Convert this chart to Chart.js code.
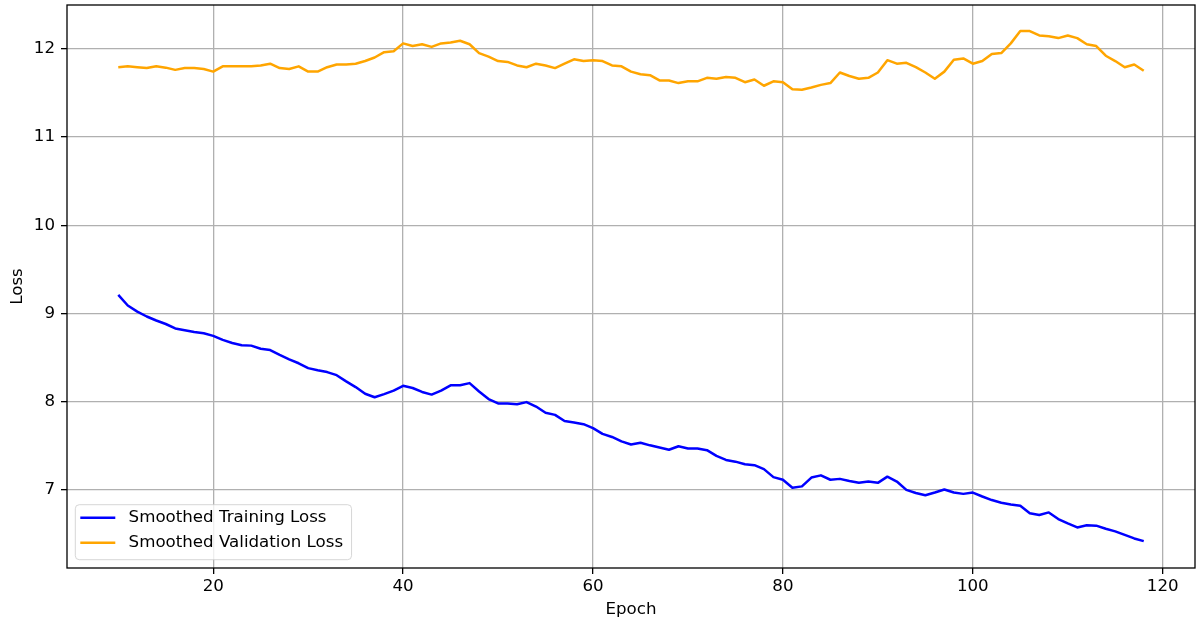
<!DOCTYPE html>
<html>
<head>
<meta charset="utf-8">
<script src="https://cdn.jsdelivr.net/npm/chart.js@4.4.0/dist/chart.umd.min.js"></script>
<style>
  body { margin: 0; background: #fff; }
</style>
</head>
<body>
<canvas id="lossChart" width="1196" height="621"></canvas>
<script>
var epochs = [
  10, 11, 12, 13, 14, 15, 16, 17, 18, 19,
  20, 21, 22, 23, 24, 25, 26, 27, 28, 29,
  30, 31, 32, 33, 34, 35, 36, 37, 38, 39,
  40, 41, 42, 43, 44, 45, 46, 47, 48, 49,
  50, 51, 52, 53, 54, 55, 56, 57, 58, 59,
  60, 61, 62, 63, 64, 65, 66, 67, 68, 69,
  70, 71, 72, 73, 74, 75, 76, 77, 78, 79,
  80, 81, 82, 83, 84, 85, 86, 87, 88, 89,
  90, 91, 92, 93, 94, 95, 96, 97, 98, 99,
  100, 101, 102, 103, 104, 105, 106, 107, 108, 109,
  110, 111, 112, 113, 114, 115, 116, 117, 118
];

var trainLoss = [
  9.21, 9.09, 9.02, 8.965, 8.92, 8.88, 8.83, 8.81, 8.79, 8.775,
  8.745, 8.70, 8.665, 8.64, 8.635, 8.60, 8.585, 8.53, 8.48, 8.435,
  8.38, 8.355, 8.335, 8.30, 8.23, 8.165, 8.09, 8.05, 8.085, 8.125,
  8.18, 8.155, 8.11, 8.08, 8.125, 8.185, 8.185, 8.21, 8.115, 8.03,
  7.98, 7.98, 7.97, 7.995, 7.945, 7.875, 7.85, 7.78, 7.765, 7.745,
  7.70, 7.635, 7.60, 7.55, 7.515, 7.535, 7.505, 7.48, 7.455, 7.495,
  7.47, 7.47, 7.45, 7.385, 7.34, 7.32, 7.29, 7.28, 7.235, 7.145,
  7.115, 7.025, 7.04, 7.14, 7.165, 7.115, 7.125, 7.10, 7.08, 7.095,
  7.08, 7.15, 7.095, 7.00, 6.965, 6.94, 6.97, 7.005, 6.97, 6.955,
  6.97, 6.925, 6.885, 6.855, 6.835, 6.82, 6.735, 6.715, 6.745, 6.67,
  6.62, 6.575, 6.60, 6.595, 6.56, 6.53, 6.49, 6.45, 6.42
];

var valLoss = [
  11.79, 11.80, 11.79, 11.78, 11.80, 11.785, 11.76, 11.78, 11.78, 11.77,
  11.74, 11.80, 11.80, 11.80, 11.80, 11.81, 11.83, 11.78, 11.77, 11.80,
  11.74, 11.74, 11.79, 11.82, 11.82, 11.83, 11.86, 11.90, 11.96, 11.97,
  12.06, 12.03, 12.05, 12.02, 12.06, 12.07, 12.09, 12.05, 11.95, 11.91,
  11.86, 11.85, 11.81, 11.79, 11.83, 11.81, 11.78, 11.83, 11.88, 11.86,
  11.87, 11.86, 11.81, 11.80, 11.74, 11.71, 11.70, 11.64, 11.64, 11.61,
  11.63, 11.63, 11.67, 11.66, 11.68, 11.67, 11.62, 11.65, 11.58, 11.63,
  11.62, 11.54, 11.535, 11.56, 11.59, 11.61, 11.73, 11.69, 11.66, 11.67,
  11.73, 11.87, 11.83, 11.84, 11.79, 11.73, 11.66, 11.74, 11.875, 11.89,
  11.83, 11.86, 11.94, 11.95, 12.06, 12.20, 12.20, 12.15, 12.14, 12.12,
  12.15, 12.12, 12.05, 12.03, 11.92, 11.86, 11.79, 11.82, 11.75
];

var xTicks = [20, 40, 60, 80, 100, 120];
var yTicks = [7, 8, 9, 10, 11, 12];
var seriesLabels = ["Smoothed Training Loss", "Smoothed Validation Loss"];
var seriesColors = ["#0000ff", "#ffa500"];

var FONT = "DejaVu Sans";
var FONT_SIZE = 16.67;

function toPoints(values) {
  return epochs.map(function (e, i) {
    return { x: e, y: values[i] };
  });
}

// matplotlib style box around the axes plus a legend in the lower left corner
var frameAndLegend = {
  id: "frameAndLegend",
  afterDraw: function (chart) {
    var ctx = chart.ctx;
    var a = chart.chartArea;
    ctx.save();
    ctx.strokeStyle = "#000";
    ctx.lineWidth = 1.3;
    ctx.strokeRect(a.left, a.top, a.right - a.left, a.bottom - a.top);

    ctx.font = FONT_SIZE + "px '" + FONT + "'";
    var textW = 0;
    seriesLabels.forEach(function (t) {
      textW = Math.max(textW, ctx.measureText(t).width);
    });
    var pad = 8.3;
    var h = 55;
    var w = 5 + 35 + 13.3 + textW + 8.5;
    var x0 = a.left + pad;
    var y0 = a.bottom - pad - h;

    ctx.beginPath();
    ctx.roundRect(x0, y0, w, h, 4);
    ctx.fillStyle = "rgba(255,255,255,0.8)";
    ctx.fill();
    ctx.strokeStyle = "rgba(204,204,204,0.8)";
    ctx.lineWidth = 1;
    ctx.stroke();

    seriesLabels.forEach(function (t, i) {
      var cy = y0 + 13 + i * 25;
      ctx.beginPath();
      ctx.moveTo(x0 + 5, cy);
      ctx.lineTo(x0 + 40, cy);
      ctx.strokeStyle = seriesColors[i];
      ctx.lineWidth = 2.5;
      ctx.stroke();
      ctx.fillStyle = "#000";
      ctx.textAlign = "left";
      ctx.textBaseline = "middle";
      ctx.fillText(t, x0 + 53.3, cy);
    });
    ctx.restore();
  }
};

Chart.defaults.font.family = FONT;
Chart.defaults.font.size = FONT_SIZE;
Chart.defaults.color = "#000";

var ctx = document.getElementById("lossChart").getContext("2d");
var lossChart = new Chart(ctx, {
  type: "line",
  data: {
    datasets: [
      {
        label: seriesLabels[0],
        data: toPoints(trainLoss),
        borderColor: seriesColors[0],
        borderWidth: 2.5,
        borderJoinStyle: "round",
        pointRadius: 0,
        tension: 0,
        fill: false
      },
      {
        label: seriesLabels[1],
        data: toPoints(valLoss),
        borderColor: seriesColors[1],
        borderWidth: 2.5,
        borderJoinStyle: "round",
        pointRadius: 0,
        tension: 0,
        fill: false
      }
    ]
  },
  options: {
    responsive: false,
    animation: false,
    layout: {
      padding: { top: 5, right: 1, left: 0, bottom: 0 }
    },
    plugins: {
      legend: { display: false },
      tooltip: { enabled: false }
    },
    scales: {
      x: {
        type: "linear",
        min: 4.6,
        max: 123.4,
        afterBuildTicks: function (scale) {
          scale.ticks = xTicks.map(function (v) { return { value: v }; });
        },
        afterFit: function (scale) {
          scale.height = 53;
          scale.paddingLeft = 0;
          scale.paddingRight = 0;
        },
        grid: {
          color: "#b0b0b0",
          lineWidth: 1.3,
          tickColor: "#000",
          tickLength: 6
        },
        border: { display: false },
        ticks: {
          padding: 3,
          maxRotation: 0,
          callback: function (v) { return String(v); }
        },
        title: {
          display: true,
          text: "Epoch",
          padding: { top: 0, bottom: 1 }
        }
      },
      y: {
        type: "linear",
        min: 6.115,
        max: 12.495,
        afterBuildTicks: function (scale) {
          scale.ticks = yTicks.map(function (v) { return { value: v }; });
        },
        afterFit: function (scale) {
          scale.width = 67;
          scale.paddingTop = 0;
          scale.paddingBottom = 0;
        },
        grid: {
          color: "#b0b0b0",
          lineWidth: 1.3,
          tickColor: "#000",
          tickLength: 6
        },
        border: { display: false },
        ticks: {
          padding: 6,
          callback: function (v) { return String(v); }
        },
        title: {
          display: true,
          text: "Loss",
          padding: { top: 8, bottom: 0 }
        }
      }
    }
  },
  plugins: [frameAndLegend]
});
</script>
</body>
</html>
